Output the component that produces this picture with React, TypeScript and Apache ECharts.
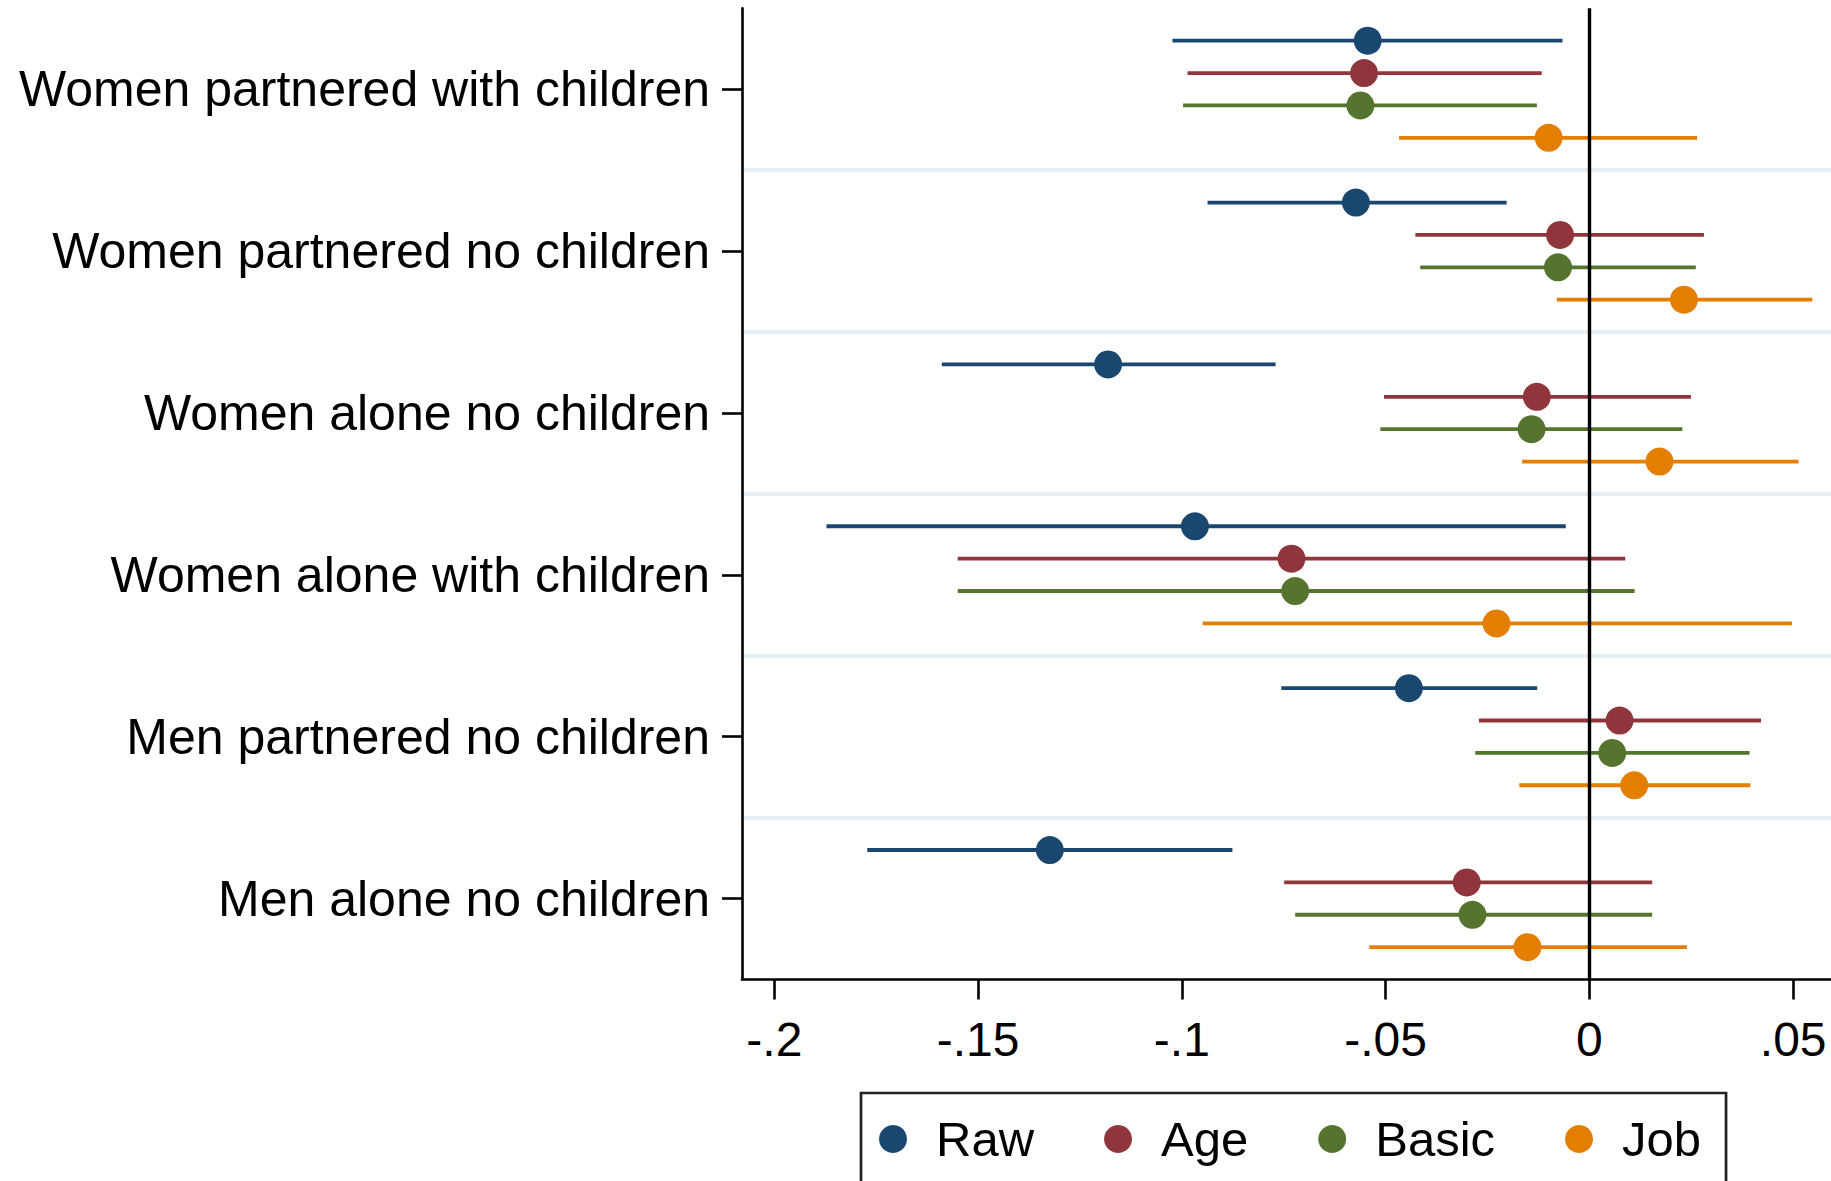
import React, { useEffect, useRef } from "react";
import * as echarts from "echarts";

const categories = [
  "Women partnered with children",
  "Women partnered no children",
  "Women alone no children",
  "Women alone with children",
  "Men partnered no children",
  "Men alone no children",
];

const seriesNames = ["Raw", "Age", "Basic", "Job"];
const seriesColors = ["#1a476f", "#90353b", "#55752f", "#e37e00"];

const rawEst = [-0.0544, -0.0573, -0.1181, -0.0968, -0.0443, -0.1324];
const rawLo = [-0.1023, -0.0937, -0.1589, -0.1872, -0.0756, -0.1772];
const rawHi = [-0.0066, -0.0203, -0.077, -0.0058, -0.0128, -0.0876];

const ageEst = [-0.0553, -0.0072, -0.0129, -0.0731, 0.0074, -0.0301];
const ageLo = [-0.0986, -0.0427, -0.0504, -0.155, -0.0271, -0.0749];
const ageHi = [-0.0117, 0.0281, 0.0249, 0.0088, 0.0421, 0.0154];

const basicEst = [-0.0562, -0.0077, -0.0142, -0.0722, 0.0056, -0.0287];
const basicLo = [-0.0997, -0.0415, -0.0513, -0.155, -0.028, -0.0722];
const basicHi = [-0.0129, 0.0261, 0.0228, 0.0111, 0.0393, 0.0154];

const jobEst = [-0.01, 0.0232, 0.0172, -0.0228, 0.011, -0.0152];
const jobLo = [-0.0467, -0.008, -0.0165, -0.0949, -0.0172, -0.054];
const jobHi = [0.0264, 0.0547, 0.0513, 0.0497, 0.0395, 0.0239];

const xTickValues = [-0.2, -0.15, -0.1, -0.05, 0, 0.05];
const xTickLabels = ["-.2", "-.15", "-.1", "-.05", "0", ".05"];

const FONT = "'Liberation Sans', Arial, sans-serif";

export default function App() {
  const ref = useRef<HTMLDivElement>(null);

  useEffect(() => {
    if (!ref.current) return;
    const chart = echarts.init(ref.current, null, { renderer: "svg" });

    const estAll = [rawEst, ageEst, basicEst, jobEst];
    const loAll = [rawLo, ageLo, basicLo, jobLo];
    const hiAll = [rawHi, ageHi, basicHi, jobHi];
    const slots = 5;

    const series: any[] = [];

    seriesNames.forEach((name, j) => {
      const color = seriesColors[j];
      series.push({
        type: "custom",
        name: name + " CI",
        xAxisIndex: 0,
        yAxisIndex: 1,
        silent: true,
        z: 2,
        data: categories.map((_, i) => [loAll[j][i], hiAll[j][i], slots * i + j + 1]),
        encode: { x: [0, 1], y: 2 },
        renderItem: (params: any, api: any) => {
          const p1 = api.coord([api.value(0), api.value(2)]);
          const p2 = api.coord([api.value(1), api.value(2)]);
          return {
            type: "line",
            shape: { x1: p1[0], y1: p1[1], x2: p2[0], y2: p2[1] },
            style: { stroke: color, lineWidth: 3.8 },
          };
        },
      });
    });

    series.push({
      type: "scatter",
      name: "zero",
      xAxisIndex: 0,
      yAxisIndex: 1,
      data: [],
      z: 3,
      markLine: {
        silent: true,
        symbol: ["none", "none"],
        label: { show: false },
        lineStyle: { color: "#000", width: 3.4, type: "solid" },
        data: [{ xAxis: 0 }],
      },
    });

    seriesNames.forEach((name, j) => {
      series.push({
        type: "scatter",
        name,
        xAxisIndex: 0,
        yAxisIndex: 1,
        symbol: "circle",
        symbolSize: 28,
        z: 4,
        itemStyle: { color: seriesColors[j], opacity: 1 },
        data: categories.map((_, i) => [estAll[j][i], slots * i + j + 1]),
      });
    });

    const option: any = {
      animation: false,
      backgroundColor: "#ffffff",
      textStyle: { fontFamily: FONT },
      grid: {
        left: 742,
        top: 8.3,
        right: 0,
        bottom: 1181 - 979.5,
        containLabel: false,
        outerBoundsMode: "none",
      },
      legend: {
        show: true,
        data: seriesNames,
        orient: "horizontal",
        left: 861,
        top: 1093,
        icon: "circle",
        itemWidth: 28,
        itemHeight: 28,
        itemGap: 70,
        padding: [18, 25, 70, 18],
        borderColor: "#222",
        borderWidth: 2.7,
        backgroundColor: "#fff",
        selectedMode: false,
        textStyle: {
          fontSize: 49,
          color: "#000",
          fontFamily: FONT,
          lineHeight: 56,
          padding: [0, 0, 0, 24],
        },
      },
      xAxis: {
        type: "value",
        min: -0.20793,
        max: 0.05928,
        axisLine: { show: true, onZero: false, lineStyle: { color: "#000", width: 2.6 } },
        axisTick: {
          show: true,
          length: 20,
          customValues: xTickValues,
          lineStyle: { color: "#000", width: 2.6 },
        },
        axisLabel: {
          show: true,
          customValues: xTickValues,
          fontSize: 48,
          color: "#000",
          fontFamily: FONT,
          margin: 36,
          formatter: (v: number) => {
            const idx = xTickValues.findIndex((t) => Math.abs(t - v) < 1e-9);
            return idx >= 0 ? xTickLabels[idx] : "";
          },
        },
        splitLine: { show: false },
      },
      yAxis: [
        {
          type: "category",
          data: categories,
          inverse: true,
          boundaryGap: true,
          axisLine: { show: true, onZero: false, lineStyle: { color: "#000", width: 2.6 } },
          axisTick: {
            show: true,
            alignWithLabel: true,
            length: 20,
            lineStyle: { color: "#000", width: 2.6 },
          },
          axisLabel: {
            show: true,
            fontSize: 50,
            color: "#000",
            fontFamily: FONT,
            margin: 32,
            interval: 0,
            lineHeight: 50,
            padding: [12, 0, 0, 0],
          },
          splitLine: {
            show: true,
            showMinLine: false,
            showMaxLine: false,
            lineStyle: { color: "#e6eff1", width: 4 },
          },
        },
        {
          type: "value",
          show: false,
          min: 0,
          max: 30,
          inverse: true,
          axisLine: { onZero: false },
          splitLine: { show: false },
        },
      ],
      series,
    };

    chart.setOption(option);
    return () => {
      chart.dispose();
    };
  }, []);

  return (
    <div
      ref={ref}
      style={{ position: "absolute", left: 0, top: 0, width: 1831, height: 1181, background: "#fff" }}
    />
  );
}
